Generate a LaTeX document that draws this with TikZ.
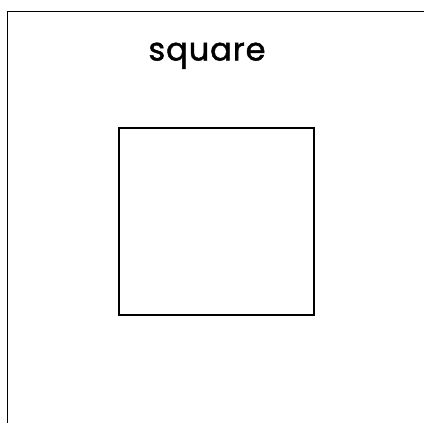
\documentclass[tikz,border=0pt]{standalone}
\usepackage{fontspec}
\newfontfamily\labelfont[FakeBold=1.5,LetterSpace=3]{Poppins}
\begin{document}
\begin{tikzpicture}[x=1pt,y=-1pt,
  frame/.style={draw=black,line width=1.5pt},
  sq/.style={draw=black,line width=2pt},
  lbl/.style={font=\labelfont\fontsize{32}{36}\selectfont,inner sep=0pt}]
\useasboundingbox (0,0) rectangle (424,423);
\coordinate (fbl) at (7.5,423);
\coordinate (ftl) at (7.5,11.5);
\coordinate (ftr) at (424,11.5);
\draw[frame] (fbl) -- (ftl) -- (ftr);
\node[sq,minimum width=194.5pt,minimum height=187pt,inner sep=0pt] (box) at (216.5,221) {};
\node[lbl,anchor=base] (title) at (207,60.5) {square};
\end{tikzpicture}
\end{document}
